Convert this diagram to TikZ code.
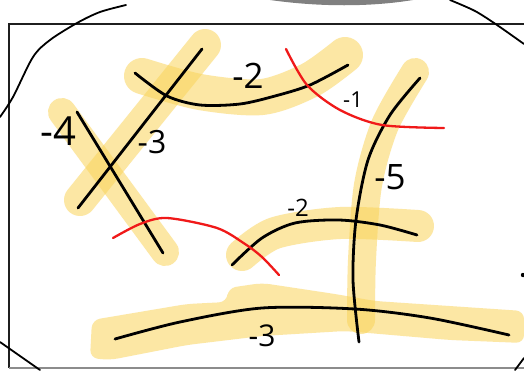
\documentclass[tikz,border=0pt]{standalone}
\usepackage{fontspec}
\setmainfont{Open Sans}
\definecolor{hly}{RGB}{250,212,90}
\definecolor{inkred}{RGB}{240,25,25}
\tikzset{
  hl/.style={draw=hly, opacity=0.55, line cap=round, line join=round},
  hlfill/.style={fill=hly, opacity=0.55},
  ink/.style={draw=black, line width=2.8pt, line cap=round, line join=round},
  redink/.style={draw=inkred, line width=2.3pt, line cap=round},
  thin/.style={draw=black, line width=1.8pt, line cap=round},
  lab/.style={inner sep=0pt, text=black},
}
\newcommand{\fs}[1]{\fontsize{#1}{#1}\selectfont}
\begin{document}
\begin{tikzpicture}[x=1pt,y=-1pt]
\useasboundingbox (0,0) rectangle (524,370);
\fill[white] (0,0) rectangle (524,370);
% frame
\draw[line width=2.8pt, black!88] (524,24) -- (9,24) -- (9,368);
\draw[line width=1.6pt, black!45] (9,368) -- (524,368);
% gray blob at top
\fill[black!50] (270,0) .. controls (320,7) and (370,7) .. (413,0) -- cycle;
% big surrounding ellipse pieces
\draw[thin] plot[smooth] coordinates {(126,5) (100,12) (77,23) (50,40) (33,57) (13,97) (0,117)};
\draw[thin] plot[smooth] coordinates {(450,0) (475,11) (497,25) (524,44)};
\draw[thin] plot[smooth] coordinates {(0,342) (20,356) (40,370)};
\draw[thin] (515,370) -- (524,358);
\fill[black] (523,275) circle (2.2);
% highlights
\draw[hl, line width=32pt] (205,45) -- (80,200);
\draw[hl, line width=28pt] (62,112) -- (165,252);
\draw[hl, line width=36pt] plot[smooth] coordinates {(142,76) (200,92) (262,97) (310,80) (345,55)};
\draw[hl, line width=28pt] plot[smooth] coordinates {(415,72) (385,125) (368,185) (362,260) (361,320)};
\draw[hl, line width=32pt] plot[smooth] coordinates {(242,255) (275,233) (340,223) (418,226)};
\fill[hlfill, rounded corners=8pt] (92,320) -- (187,304) -- (227,302) -- (228,288) -- (262,283) -- (335,294) -- (375,301) -- (524,311) -- (524,343) -- (450,340) -- (345,331) -- (262,336) -- (187,345) -- (110,360) -- (90,358) -- cycle;
% black strokes
\draw[ink] (202,49) -- (78,208);
\draw[ink] (77,112) -- (163,253);
\draw[ink] plot[smooth] coordinates {(135,73) (167,96) (200,105) (240,104) (275,96) (310,85) (348,65)};
\draw[ink] plot[smooth] coordinates {(420,78) (390,115) (368,160) (356,220) (353,280) (359,342)};
\draw[ink] plot[smooth] coordinates {(232,265) (262,238) (295,223) (339,220) (380,225) (417,235)};
\draw[ink] plot[smooth] coordinates {(115,339) (180,322) (262,308) (355,309) (430,318) (509,335)};
% red arcs
\draw[redink] plot[smooth] coordinates {(286,49) (307,85) (340,110) (382,125) (444,128)};
\draw[redink] plot[smooth] coordinates {(113,238) (140,224) (167,218) (217,228) (245,244) (262,257) (279,275)};
% labels
\node[lab] (l4) at (58,131) {\fs{40}-4};
\node[lab] (l3a) at (152,142) {\fs{32}-3};
\node[lab] (l2a) at (248,76) {\fs{35}-2};
\node[lab] (l1) at (353,100) {\fs{22}-1};
\node[lab] (l5) at (390,177) {\fs{35}-5};
\node[lab] (l2b) at (298,208) {\fs{24}-2};
\node[lab] (l3b) at (262,336) {\fs{30}-3};
\end{tikzpicture}
\end{document}
